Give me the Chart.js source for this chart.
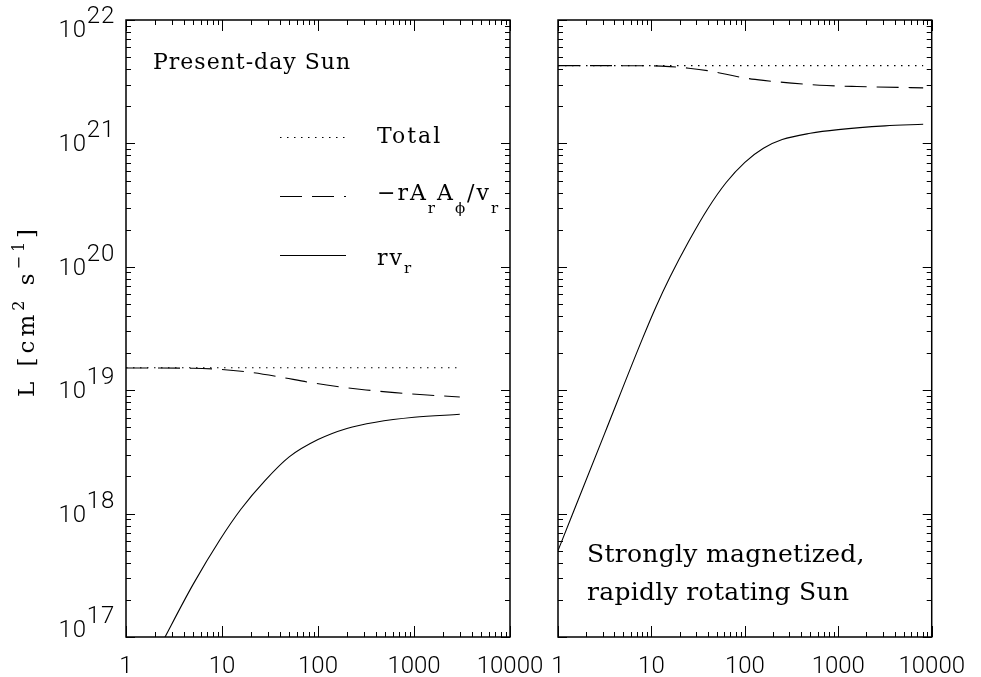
<!DOCTYPE html>
<html>
<head>
<meta charset="utf-8">
<script src="https://cdn.jsdelivr.net/npm/chart.js@4.4.1/dist/chart.umd.min.js"></script>
<style>
  html,body{margin:0;padding:0;background:#fff;}
  #wrap{position:relative;width:981px;height:677px;overflow:hidden;}
  #wrap canvas{position:absolute;left:0;top:0;}
</style>
</head>
<body>
<div id="wrap">
  <canvas id="leftChart" width="981" height="677"></canvas>
  <canvas id="rightChart" width="981" height="677"></canvas>
</div>
<script>
/* ── DATA ────────────────────────────────────────────────── */
const xTicks = [1, 10, 100, 1000, 10000];
const yTicks = [1e17, 1e18, 1e19, 1e20, 1e21, 1e22];

// present-day Sun (left panel)
const leftTotalX = [1, 3000];
const leftTotalY = [1.52e19, 1.52e19];
const leftMagX   = [1, 5.01, 10, 20, 39.8, 79.4, 158, 316, 631, 1259, 3000];
const leftMagY   = [1.514e19, 1.507e19, 1.472e19, 1.396e19, 1.282e19, 1.161e19, 1.072e19, 1.005e19, 9.55e18, 9.18e18, 8.81e18];
const leftFlowX  = [1, 2.55, 5.0, 9.55, 15.8, 28.2, 50.1, 100, 200, 398, 1000, 3000];
const leftFlowY  = [2.45e16, 1.0e17, 2.67e17, 6.17e17, 1.09e18, 1.86e18, 2.88e18, 3.98e18, 4.9e18, 5.5e18, 6.03e18, 6.38e18];

// strongly magnetized, rapidly rotating Sun (right panel)
const rightTotalX = [1, 8100];
const rightTotalY = [4.27e21, 4.27e21];
const rightMagX   = [1, 10, 15.8, 25.1, 39.8, 63.1, 100, 158, 316, 631, 1585, 8100];
const rightMagY   = [4.27e21, 4.25e21, 4.19e21, 4.07e21, 3.89e21, 3.63e21, 3.39e21, 3.24e21, 3.08e21, 2.96e21, 2.89e21, 2.82e21];
const rightFlowX  = [1, 3.16, 7.94, 11.2, 15.8, 25.1, 39.8, 63.1, 100, 158, 251, 501, 1000, 3162, 8100];
const rightFlowY  = [5.01e17, 4.47e18, 2.57e19, 4.75e19, 8.26e19, 1.61e20, 2.93e20, 4.82e20, 7.03e20, 9.14e20, 1.074e21, 1.208e21, 1.294e21, 1.387e21, 1.429e21];

/* ── STYLE ───────────────────────────────────────────────── */
const SERIF = '"DejaVu Serif","Liberation Serif",serif';
const SANS  = 'Roboto,"DejaVu Sans",sans-serif';
const DOTTED = [1.5, 5.5];
const DASHED = [22, 10];

const pts = (xs, ys) => xs.map((x, i) => ({x, y: ys[i]}));

function series(xs, ys, dash){
  return { data: pts(xs, ys), borderColor:'#000', borderWidth:1.1, borderDash:dash,
           pointRadius:0, showLine:true, cubicInterpolationMode:'monotone', fill:false };
}

// draw a run of text pieces: [text, size, dy, family]
function drawRuns(ctx, x, y, runs, align, spacing){
  ctx.letterSpacing = (spacing || 0) + 'px';
  let w = 0;
  runs.forEach(r => { ctx.font = `${r[1]}px ${r[3]||SERIF}`; w += ctx.measureText(r[0]).width; });
  let cx = align==='center' ? x - w/2 : align==='right' ? x - w : x;
  runs.forEach(r => {
    ctx.font = `${r[1]}px ${r[3]||SERIF}`;
    ctx.fillText(r[0], cx, y + r[2]);
    cx += ctx.measureText(r[0]).width;
  });
  ctx.letterSpacing = '0px';
}

/* ── FRAME + INWARD TICKS ────────────────────────────────── */
const framePlugin = {
  id:'frame',
  afterDatasetsDraw(chart){
    const {ctx, chartArea:a, scales:{x, y}} = chart;
    ctx.save();
    ctx.strokeStyle = '#000';
    ctx.lineWidth = 1.5;
    ctx.strokeRect(a.left, a.top, a.right - a.left, a.bottom - a.top);
    ctx.lineWidth = 1;
    ctx.beginPath();
    xTicks.forEach(d => {
      for(let m = 1; m <= 9; m++){
        const v = d*m; if(v > xTicks[xTicks.length-1]) break;
        const px = Math.round(x.getPixelForValue(v)) + 0.5;
        const len = m===1 ? 11 : 5;
        ctx.moveTo(px, a.bottom); ctx.lineTo(px, a.bottom - len);
        ctx.moveTo(px, a.top);    ctx.lineTo(px, a.top + len);
      }
    });
    yTicks.forEach(d => {
      for(let m = 1; m <= 9; m++){
        const v = d*m; if(v > yTicks[yTicks.length-1]) break;
        const py = Math.round(y.getPixelForValue(v)) + 0.5;
        const len = m===1 ? 9 : 5;
        ctx.moveTo(a.left, py);  ctx.lineTo(a.left + len, py);
        ctx.moveTo(a.right, py); ctx.lineTo(a.right - len, py);
      }
    });
    ctx.stroke();
    ctx.restore();
  }
};

/* ── LEFT PANEL TEXT: y labels, title, legend ────────────── */
const leftTextPlugin = {
  id:'leftText',
  afterDraw(chart){
    const {ctx, chartArea:a, scales:{y}} = chart;
    ctx.save();
    ctx.fillStyle = '#000';
    ctx.textBaseline = 'alphabetic';
    // y tick labels 10^n
    yTicks.forEach(v => {
      let py = y.getPixelForValue(v);
      py = Math.min(Math.max(py, a.top + 9), a.bottom - 8);
      const e = String(Math.round(Math.log10(v)));
      drawRuns(ctx, a.left - 11, py + 8, [['10', 23, 0, '300 ' + SANS], [e, 20, -14, '300 ' + SANS]], 'right', 0.8);
    });
    // axis title
    ctx.save();
    ctx.translate(34, 311);
    ctx.rotate(-Math.PI/2);
    drawRuns(ctx, 0, 0, [['L [cm', 23, 0], ['2', 16, -10], [' s', 23, 0], ['\u22121', 16, -10], [']', 23, 0]], 'center', 4);
    ctx.restore();
    // annotation
    drawRuns(ctx, 153, 69, [['Present-day Sun', 22, 0]], 'left', 1);
    // legend
    const items = [
      {y:137, dash:DOTTED, runs:[['Total', 22, 6]]},
      {y:196, dash:DASHED, runs:[['\u2212rA', 22, 4], ['r', 15, 17], ['A', 22, 4], ['\u03d5', 15, 17], ['/v', 22, 4], ['r', 15, 17]]},
      {y:255, dash:[],     runs:[['rv', 22, 10], ['r', 15, 18]]}
    ];
    items.forEach(it => {
      ctx.beginPath();
      ctx.lineWidth = 1.1;
      ctx.setLineDash(it.dash);
      ctx.moveTo(280, it.y + 0.5); ctx.lineTo(346, it.y + 0.5);
      ctx.stroke();
      ctx.setLineDash([]);
      drawRuns(ctx, 377, it.y, it.runs, 'left', 2);
    });
    ctx.restore();
  }
};

const rightTextPlugin = {
  id:'rightText',
  afterDraw(chart){
    const {ctx} = chart;
    ctx.save();
    ctx.fillStyle = '#000';
    drawRuns(ctx, 587, 562, [['Strongly magnetized,', 25, 0]], 'left', 0.3);
    drawRuns(ctx, 587, 600, [['rapidly rotating Sun', 25, 0]], 'left', 0.3);
    ctx.restore();
  }
};

/* ── SHARED OPTIONS ──────────────────────────────────────── */
function panelOptions(padRight, yAxisWidth){
  return {
    responsive:false, animation:false, devicePixelRatio:1,
    layout:{ padding:{ left:0, top:20, right:padRight, bottom:0 } },
    plugins:{ legend:{display:false}, tooltip:{enabled:false} },
    scales:{
      x:{
        type:'logarithmic', min:1, max:10000,
        grid:{display:false, drawTicks:false}, border:{display:false},
        afterBuildTicks:s => { s.ticks = xTicks.map(v => ({value:v})); },
        afterFit:s => { s.height = 40; },
        ticks:{ autoSkip:false, maxRotation:0, padding:16, color:'#000',
                font:{family:SANS, size:24, weight:300}, callback:v => String(v) }
      },
      y:{
        type:'logarithmic', min:1e17, max:1e22,
        grid:{display:false, drawTicks:false}, border:{display:false},
        afterBuildTicks:s => { s.ticks = yTicks.map(v => ({value:v})); },
        afterFit:s => { s.width = yAxisWidth; },
        ticks:{ display:false }
      }
    }
  };
}

new Chart(document.getElementById('leftChart'), {
  type:'scatter',
  data:{ datasets:[
    series(leftTotalX, leftTotalY, DOTTED),
    series(leftMagX, leftMagY, DASHED),
    series(leftFlowX, leftFlowY, [])
  ]},
  options:panelOptions(471, 126),
  plugins:[framePlugin, leftTextPlugin]
});

new Chart(document.getElementById('rightChart'), {
  type:'scatter',
  data:{ datasets:[
    series(rightTotalX, rightTotalY, DOTTED),
    series(rightMagX, rightMagY, DASHED),
    series(rightFlowX, rightFlowY, [])
  ]},
  options:panelOptions(39, 558),
  plugins:[framePlugin, rightTextPlugin]
});
</script>
</body>
</html>
